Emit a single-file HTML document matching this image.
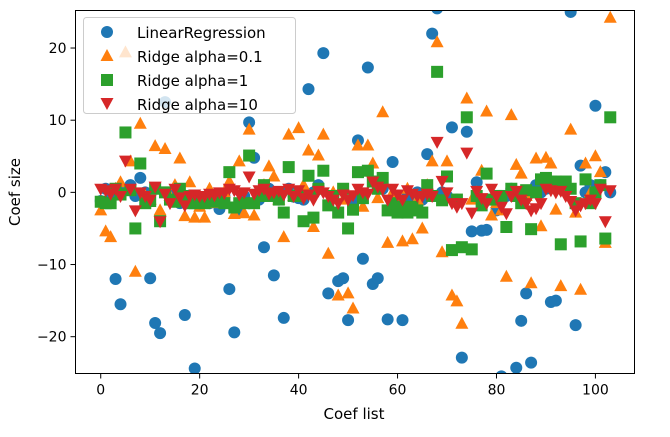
<!DOCTYPE html>
<html><head><meta charset="utf-8"><style>
html,body{margin:0;padding:0;background:#fff;}
svg text{font-family:"DejaVu Sans","Liberation Sans",sans-serif;fill:#000;}
</style></head><body>
<svg id="chart" width="670" height="432" viewBox="0 0 670 432" xmlns="http://www.w3.org/2000/svg">
<g id="marks"></g>
<rect x="75.5" y="10.5" width="559" height="363" fill="none" stroke="#000" stroke-width="1"/>
<g id="axes"></g>
<text x="354" y="419" font-size="15" text-anchor="middle">Coef list</text>
<text x="20" y="192" font-size="15" text-anchor="middle" transform="rotate(-90 20 192)">Coef size</text>
<g>
<rect x="83.5" y="17.5" width="212" height="96" rx="3" fill="#fff" fill-opacity="0.8" stroke="#ccc"/>
<g><circle cx="107" cy="32" r="6" fill="#1f77b4"/><text x="137" y="38" font-size="15">LinearRegression</text></g>
<g><polygon points="107,49 113.5,61 100.5,61" fill="#ff7f0e"/><text x="137" y="62" font-size="15">Ridge alpha=0.1</text></g>
<g><rect x="101" y="74" width="12" height="12" fill="#2ca02c"/><text x="137" y="86" font-size="15">Ridge alpha=1</text></g>
<g><polygon points="100.5,98 113.5,98 107,110" fill="#d62728"/><text x="137" y="110" font-size="15">Ridge alpha=10</text></g>
</g>
</svg>
<script>
const xTicks = [0, 20, 40, 60, 80, 100];
const yTicks = [-20, -10, 0, 10, 20];
const yTickLabels = ["\u221220", "\u221210", "0", "10", "20"];
const linReg = [-1.2,0.5,-0.5,-12,-15.5,0.3,1,-0.5,2,0,-11.9,-18.1,-19.5,12.5,-1,0,-1.5,-17,-0.5,-24.4,-1,-0.8,-1.5,-1,-2.3,-0.5,-13.4,-19.4,-2.5,-0.5,9.7,4.8,-1,-7.6,0.5,-11.5,-1,-17.4,0.5,-0.6,-0.8,-1,14.3,0,1,19.3,-14,-0.5,-12.3,-11.9,-17.7,-1,7.2,-9.2,17.3,-12.7,-11.9,0.5,-17.6,4.2,-1,-17.7,-0.5,-1,0,-1,5.3,22,25.5,0,-0.5,9,-1,-22.9,8.4,-5.4,1.4,-5.3,-5.2,-1,-2.5,-25.5,-0.5,0.5,-24.3,-17.8,-14,-23.6,1,0,0.5,-15.2,-15,0.5,1,25,-18.4,3.7,0,1,12,1,2.8,0];
const ridge01 = [-2.5,-5.4,-6.2,0.5,1.4,19.4,4.3,-11,9.5,-0.5,-1,6.4,-2.5,6,-0.5,1,4.7,-3.3,1.4,-3.5,-2,-3.5,0.5,-1.5,-1,0,1.5,-3,4.3,-2.9,8.7,-3.2,0,1,3.6,2.2,-1,-6.2,8,-0.5,8.9,1,5.8,-4.8,5.1,8,-8.5,0,-14.3,-1,-14,-16.1,6.5,-2,6.5,4,-0.8,11.1,-7,0,-1,-6.8,0.5,-6.5,-1,-5,1,4.3,20.8,-8.3,4.3,-14.3,-15.1,-18.2,13,-1,0,3,11.2,-3.2,-1.5,-2.5,-11.7,10.7,3.8,2.6,-0.5,-12.6,4.7,-4.7,4.8,4,-2.4,-13,0.5,8.7,-2.8,-13.5,4,0,5,2.8,-7,24.2];
const ridge1 = [-1.3,-1.5,-1.5,0.5,-0.3,8.3,0.3,-5,4,-1.5,-1.2,0.5,-4,0,-1,-1.3,0.5,-0.5,-1.5,-1.5,-1.2,-1.5,-1,-1.3,-0.5,-1.5,2.8,-2.1,-1.5,-1.5,5.1,-1.5,-0.5,1,-0.5,-0.3,-1,-2.8,3.5,-0.5,-0.5,-4,2.3,-3.5,0.5,3,-1.8,-0.5,-2.8,0.5,-5,-2.4,2.8,-0.8,3,1.5,0.5,2,-2.5,-1.5,-2.8,-2,-2.8,-2,-2.5,-2.8,1,-0.5,16.7,-1.1,2.2,-8,-1,-7.6,10.4,-7.9,-0.5,-1.8,2.6,-1,-0.5,-0.5,-4.8,0.5,-0.5,-1.5,0.3,-5.1,0,1.8,2,1.5,1.5,-7.2,1.5,0.5,-1.5,-6.8,1.8,-1.5,0,1,-6.4,10.4];
const ridge10 = [0.5,0.3,-0.2,0.5,-0.5,4.4,0.5,-2.5,0,-0.5,-1,0.8,-4,-0.2,-1.5,0.5,-0.7,-1.8,-0.5,-0.3,-0.5,-0.5,-0.2,-0.4,0,-0.1,0.5,0.3,-0.3,0,2.2,-0.2,0.3,0.5,-0.2,0,0.2,-0.3,0.5,-0.5,0.3,-0.8,-0.3,-1,0.2,0,-0.5,-1,-1.5,-0.3,-1,-0.4,0.5,0,-0.2,1.5,0.8,0.5,-1,0.5,-0.3,-1,0.3,-0.2,-0.5,-0.5,-0.2,-0.5,7,1.6,0,-1.5,-2,-1.5,5.5,-2.8,0.2,-0.8,-1.5,0.5,-0.5,-2,-2.9,-0.5,0.2,-1,-1.5,-2.5,-2.2,-1.5,0.5,0.3,0,0.2,-0.5,-1.2,-2.5,-1.8,-1.5,-1,-1.5,0.5,-4,0.3];

const L=75.5,R=634.5,T=10.5,B=373.5;
const xMin=-5.1,xMax=107.9,yMin=-25.1,yMax=25.2;
function sx(v){return L+(v-xMin)/(xMax-xMin)*(R-L);}
function sy(v){return B-(v-yMin)/(yMax-yMin)*(B-T);}
const NS="http://www.w3.org/2000/svg";
const marks=document.getElementById('marks');
const axes=document.getElementById('axes');
const clip=document.createElementNS(NS,'clipPath');clip.setAttribute('id','pc');
const cr=document.createElementNS(NS,'rect');cr.setAttribute('x',L);cr.setAttribute('y',T);cr.setAttribute('width',R-L);cr.setAttribute('height',B-T);
clip.appendChild(cr);document.getElementById('chart').prepend(clip);
marks.setAttribute('clip-path','url(#pc)');
function add(tag,attrs,parent){const e=document.createElementNS(NS,tag);for(const k in attrs)e.setAttribute(k,attrs[k]);parent.appendChild(e);return e;}
linReg.forEach((v,i)=>{const e=add('circle',{cx:sx(i),cy:sy(v),r:6,fill:'#1f77b4'},marks);

});
ridge01.forEach((v,i)=>{const x=sx(i),y=sy(v);const e=add('polygon',{points:`${x},${y-7} ${x+6.5},${y+5} ${x-6.5},${y+5}`,fill:'#ff7f0e'},marks);

});
ridge1.forEach((v,i)=>{const e=add('rect',{x:sx(i)-6,y:sy(v)-6,width:12,height:12,fill:'#2ca02c'},marks);

});
ridge10.forEach((v,i)=>{const x=sx(i),y=sy(v);const e=add('polygon',{points:`${x-6.5},${y-5} ${x+6.5},${y-5} ${x},${y+7}`,fill:'#d62728'},marks);

});
xTicks.forEach(t=>{const x=sx(t);
const l=add('line',{x1:x,x2:x,y1:B,y2:B+5,stroke:'#000'},axes);


const tx=add('text',{x:x,y:B+21,'font-size':14,'text-anchor':'middle'},axes);tx.textContent=t;

});
yTicks.forEach((t,k)=>{const y=sy(t);
const l=add('line',{x1:L-5,x2:L,y1:y,y2:y,stroke:'#000'},axes);


const tx=add('text',{x:L-9,y:y+5,'font-size':14,'text-anchor':'end'},axes);tx.textContent=yTickLabels[k];

});
</script>
</body></html>
